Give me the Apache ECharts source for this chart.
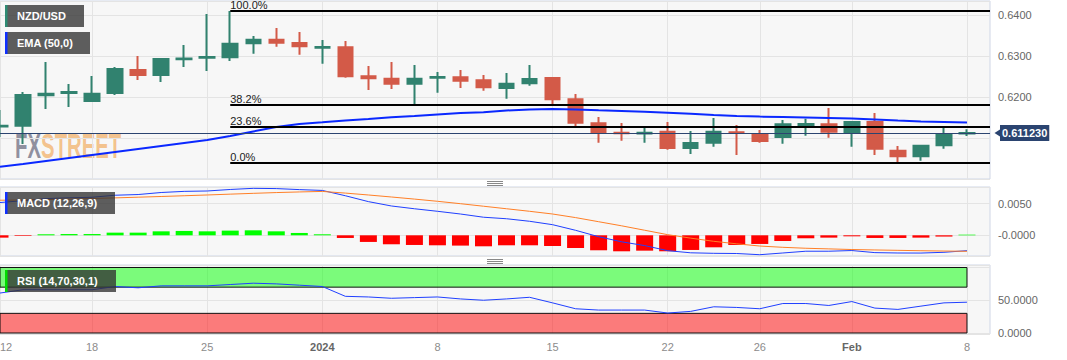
<!DOCTYPE html>
<html><head><meta charset="utf-8">
<script src="https://cdn.jsdelivr.net/npm/echarts@6/dist/echarts.min.js"></script>
<style>html,body{margin:0;padding:0;background:#fff}#c{width:1067px;height:360px}</style>
</head><body><div id="c"></div>
<script>
const dates = ['Dec 12','Dec 13','Dec 14','Dec 15','Dec 18','Dec 19','Dec 20','Dec 21','Dec 22','Dec 25','Dec 26','Dec 27','Dec 28','Dec 29',
  'Jan 1','Jan 2','Jan 3','Jan 4','Jan 5','Jan 8','Jan 9','Jan 10','Jan 11','Jan 12','Jan 15','Jan 16','Jan 17','Jan 18','Jan 19',
  'Jan 22','Jan 23','Jan 24','Jan 25','Jan 26','Jan 29','Jan 30','Jan 31','Feb 1','Feb 2','Feb 5','Feb 6','Feb 7','Feb 8'];
const opens  = [0.61280,0.61300,0.62040,0.62100,0.61902,0.62098,0.62659,0.62537,0.62920,0.62960,0.62968,0.63310,0.63398,0.63317,
  0.63200,0.63212,0.62505,0.62446,0.62324,0.62470,0.62480,0.62407,0.62220,0.62334,0.62463,0.61944,0.61359,0.61130,0.61110,
  0.61154,0.60756,0.60885,0.61140,0.61098,0.61024,0.61320,0.61334,0.61146,0.61390,0.60690,0.60554,0.60822,0.61110];
const highs  = [0.61683,0.62122,0.62854,0.62317,0.62512,0.62732,0.63000,0.62951,0.63268,0.64024,0.64098,0.63488,0.63683,0.63585,
  0.63390,0.63366,0.62756,0.62854,0.62780,0.62610,0.62659,0.62537,0.62585,0.62780,0.62488,0.62073,0.61512,0.61366,0.61251,
  0.61390,0.61171,0.61488,0.61317,0.61195,0.61439,0.61471,0.61732,0.61415,0.61610,0.60805,0.60822,0.61251,0.61212];
const lows   = [0.61024,0.60854,0.61707,0.61756,0.61878,0.62049,0.62415,0.62366,0.62732,0.62634,0.62878,0.63056,0.63227,0.63032,
  0.62812,0.62471,0.62171,0.62195,0.61829,0.62105,0.62220,0.62154,0.61959,0.62276,0.61829,0.61293,0.60885,0.60934,0.60885,
  0.60715,0.60610,0.60788,0.60585,0.60885,0.60861,0.61056,0.61007,0.60788,0.60585,0.60400,0.60446,0.60739,0.61049];
const closes = [0.61300,0.62049,0.62080,0.62120,0.62080,0.62683,0.62537,0.62927,0.62940,0.62975,0.63300,0.63398,0.63324,0.63237,
  0.63220,0.62505,0.62456,0.62324,0.62446,0.62490,0.62398,0.62237,0.62324,0.62439,0.61944,0.61373,0.61129,0.61115,0.61130,
  0.60756,0.60878,0.61154,0.61120,0.60927,0.61334,0.61340,0.61154,0.61390,0.60739,0.60554,0.60812,0.61090,0.61123];
const ema50 = [0.60300,0.60366,0.60439,0.60512,0.60585,0.60659,0.60732,0.60805,0.60878,0.60951,0.61049,0.61159,0.61268,0.61341,
  0.61383,0.61427,0.61463,0.61507,0.61537,0.61573,0.61610,0.61629,0.61671,0.61695,0.61707,0.61695,0.61676,0.61659,0.61639,
  0.61615,0.61590,0.61561,0.61537,0.61522,0.61512,0.61502,0.61490,0.61478,0.61451,0.61424,0.61405,0.61390,0.61376];
const macdLine = [0.00518,0.00548,0.00581,0.00593,0.00602,0.00634,0.00645,0.00677,0.00695,0.00701,0.00725,0.00743,0.00739,0.00723,
  0.00710,0.00626,0.00533,0.00464,0.00420,0.00380,0.00337,0.00286,0.00262,0.00222,0.00168,0.00079,-0.00022,-0.00103,-0.00163,
  -0.00243,-0.00277,-0.00285,-0.00288,-0.00307,-0.00280,-0.00252,-0.00252,-0.00241,-0.00274,-0.00280,-0.00281,-0.00269,-0.00243];
const signalLine = [0.00555,0.00558,0.00565,0.00573,0.00582,0.00592,0.00603,0.00614,0.00626,0.00638,0.00651,0.00664,0.00676,0.00686,
  0.00694,0.00668,0.00638,0.00606,0.00573,0.00538,0.00500,0.00460,0.00420,0.00380,0.00337,0.00280,0.00215,0.00150,0.00080,
  0.00010,-0.00045,-0.00095,-0.00135,-0.00170,-0.00190,-0.00205,-0.00215,-0.00225,-0.00232,-0.00238,-0.00244,-0.00249,-0.00253];
const macdHist = [-0.00037,-0.00010,0.00016,0.00020,0.00020,0.00042,0.00042,0.00063,0.00069,0.00063,0.00074,0.00079,0.00063,0.00037,
  0.00016,-0.00042,-0.00105,-0.00142,-0.00153,-0.00158,-0.00163,-0.00174,-0.00158,-0.00158,-0.00169,-0.00201,-0.00237,-0.00253,-0.00243,
  -0.00253,-0.00232,-0.00190,-0.00153,-0.00137,-0.00090,-0.00047,-0.00037,-0.00016,-0.00042,-0.00042,-0.00037,-0.00020,0.00010];
const rsi = [61,66,66,66,66,71,69,72,72,72,74,76,75,73,
  71,56,55,53,54,55,52,50,52,54.5,46,37,35,35,35,
  30.5,33,40,39,37,45,45,42,48,38,36,41,46,47];
const xTickLabels = [['Dec 12','12'],['Dec 18','18'],['Dec 25','25'],['Jan 1','2024'],['Jan 8','8'],['Jan 15','15'],
  ['Jan 22','22'],['Jan 26','26'],['Feb 1','Feb'],['Feb 8','8']];
const boldTickLabels = ['2024','Feb'];
const fibRatios = [1, 0.382, 0.236, 0];
const fibLabels = ['100.0%','38.2%','23.6%','0.0%'];
const legendNames = ['NZD/USD','EMA (50,0)','MACD (12,26,9)','RSI (14,70,30,1)'];
const rsiBands = [[70,100],[0,30]];

const UP = '#31826f', DOWN = '#d35a48', TAG = '#2b4470';
const FONT = 'Liberation Sans, Arial, sans-serif';
const cats = dates.concat(['pad']);
const tickMap = new Map(xTickLabels);
const hi = Math.max(...highs), lo = Math.min(...lows);
const hiIdx = highs.indexOf(hi);
const lastClose = closes[closes.length - 1];

function makeX(gi, showLabels) {
  return {
    type: 'category', gridIndex: gi, data: cats, boundaryGap: false,
    axisLine: { show: false }, axisTick: { show: false },
    splitLine: { show: true, interval: (i, v) => tickMap.has(v), lineStyle: { color: '#e4e4e4', width: 1 } },
    axisLabel: {
      show: showLabels, interval: (i, v) => tickMap.has(v), margin: 7,
      alignMinLabel: 'left', color: '#8c8c8c', fontSize: 11, fontFamily: FONT,
      formatter: v => { const t = tickMap.get(v) || ''; return boldTickLabels.includes(t) ? '{b|' + t + '}' : t; },
      rich: { b: { fontWeight: 'bold', color: '#666', fontSize: 11, fontFamily: FONT } }
    }
  };
}
function isMult(v, step) { const r = v / step; return Math.abs(r - Math.round(r)) < 1e-6; }
function makeY(gi, min, max, step, fmt) {
  return {
    type: 'value', gridIndex: gi, position: 'right', min, max,
    minInterval: step, maxInterval: step, scale: true,
    axisLine: { show: false }, axisTick: { show: false },
    splitLine: { show: true, lineStyle: { color: '#e4e4e4', width: 1 } },
    axisLabel: { margin: 8, color: '#666', fontSize: 11, fontFamily: FONT, formatter: fmt,
      showMinLabel: true, showMaxLabel: true }
  };
}
const gridBase = { left: 0, right: 77, show: true, backgroundColor: '#f7f7f7', borderColor: '#cfd6e6', borderWidth: 1, containLabel: false, outerBoundsMode: 'none' };

const fibData = fibRatios.map((r, k) => {
  const lvl = lo + r * (hi - lo);
  return [
    { coord: [hiIdx, lvl], lineStyle: { color: '#000', width: 2, type: 'solid' },
      label: { show: true, position: 'insideStartTop', formatter: fibLabels[k], color: '#222', fontSize: 11, lineHeight: 11, fontFamily: FONT, distance: 0 } },
    { coord: [cats.length - 1, lvl] }
  ];
});
const priceLine = {
  yAxis: lastClose, lineStyle: { color: TAG, width: 1, type: 'solid' },
  label: { show: true, position: 'end', distance: 10, formatter: lastClose.toFixed(6),
    backgroundColor: TAG, color: '#fff', fontWeight: 'bold', fontSize: 11, fontFamily: FONT, padding: [3, 2, 2, 2] }
};

function legendBox(x, y, w, barColor, text) {
  return [
    { type: 'rect', shape: { x: x, y: y, width: w, height: 22 }, style: { fill: 'rgba(50,50,50,0.78)' }, z: 50 },
    { type: 'rect', shape: { x: x, y: y, width: 2.5, height: 22 }, style: { fill: barColor }, z: 51 },
    { type: 'text', x: x + 12, y: y + 11, style: { text: text, fill: '#fff', font: 'bold 11px ' + FONT, verticalAlign: 'middle' }, z: 51 }
  ];
}
function sep(y) {
  return [0, 2, 4].map(d => ({ type: 'line', shape: { x1: 487, y1: y + d + 0.5, x2: 503, y2: y + d + 0.5 }, style: { stroke: '#888', lineWidth: 1 }, z: 50 }));
}

const option = {
  animation: false,
  backgroundColor: '#fff',
  textStyle: { fontFamily: FONT },
  grid: [
    Object.assign({ top: 1, height: 178 }, gridBase),
    Object.assign({ top: 187, height: 69 }, gridBase),
    Object.assign({ top: 265, height: 69 }, gridBase)
  ],
  xAxis: [makeX(0, false), makeX(1, false), makeX(2, true)],
  yAxis: [
    makeY(0, 0.60, 0.643415, 0.01, v => (v > 0.6005 && isMult(v, 0.01) && Math.abs(v - lastClose) > 0.002) ? v.toFixed(4) : ''),
    makeY(1, -0.003275, 0.007642, 0.005, v => isMult(v, 0.005) ? (Math.abs(v) < 1e-9 ? '-0.0000' : v.toFixed(4)) : ''),
    makeY(2, -1.53, 103.8, 50, v => (Math.abs(v) < 1e-9 || Math.abs(v - 50) < 1e-9) ? v.toFixed(4) : '')
  ],
  graphic: [
    { type: 'group', x: 15, y: 146, scaleX: 0.58, z: 1, children: [
      { type: 'text', x: 0, y: 0, style: { text: 'FX', fill: 'rgba(110,110,130,0.75)', font: 'bold 35px ' + FONT, verticalAlign: 'middle' } },
      { type: 'text', x: 45, y: 0, style: { text: 'STREET', fill: 'rgba(240,150,50,0.55)', font: 'bold 35px ' + FONT, verticalAlign: 'middle' } }
    ] },
    ...legendBox(5, 5, 79, '#2e8b73', legendNames[0]),
    ...legendBox(5, 32, 85, '#1030ff', legendNames[1]),
    ...legendBox(5, 192, 110, '#1030ff', legendNames[2]),
    ...legendBox(5, 270, 111, '#00dd00', legendNames[3]),
    ...sep(181), ...sep(259)
  ],
  series: [
    { type: 'candlestick', xAxisIndex: 0, yAxisIndex: 0, barWidth: 15, clip: true,
      data: opens.map((o, i) => [o, closes[i], lows[i], highs[i]]),
      itemStyle: { color: UP, color0: DOWN, borderColor: UP, borderColor0: DOWN, borderWidth: 2 },
      markLine: { silent: true, symbol: ['none', 'none'], animation: false, precision: 6, data: fibData.concat([priceLine]) },
      markPoint: { silent: true, animation: false, label: { show: false },
        data: [{ coord: [cats.length - 1, lastClose], symbol: 'triangle', symbolRotate: 90, symbolSize: [9, 7], symbolOffset: [8, 0],
          itemStyle: { color: TAG } }] }
    },
    { type: 'line', name: 'EMA', xAxisIndex: 0, yAxisIndex: 0, data: ema50, showSymbol: false, symbol: 'none',
      lineStyle: { color: '#0a28ff', width: 2 }, z: 3 },
    { type: 'bar', xAxisIndex: 1, yAxisIndex: 1, data: macdHist, barWidth: 17,
      itemStyle: { color: p => p.value >= 0 ? '#00ff00' : '#ff0000' } },
    { type: 'line', xAxisIndex: 1, yAxisIndex: 1, data: macdLine, showSymbol: false, symbol: 'none',
      lineStyle: { color: '#1f3fff', width: 1 }, z: 4 },
    { type: 'line', xAxisIndex: 1, yAxisIndex: 1, data: signalLine, showSymbol: false, symbol: 'none',
      lineStyle: { color: '#ff7f27', width: 1 }, z: 4 },
    { type: 'line', xAxisIndex: 2, yAxisIndex: 2, data: rsi, showSymbol: false, symbol: 'none',
      lineStyle: { color: '#1f3fff', width: 1 }, z: 4,
      markArea: { silent: true, data: rsiBands.map(([a, b], k) => [
        { xAxis: dates[0], yAxis: a, itemStyle: { color: k === 0 ? 'rgba(0,255,0,0.5)' : 'rgba(255,0,0,0.5)', borderColor: '#111', borderWidth: 1 } },
        { xAxis: dates[dates.length - 1], yAxis: b }
      ]) }
    }
  ]
};
const chart = echarts.init(document.getElementById('c'), null, { renderer: 'svg' });
chart.setOption(option);
</script>
</body></html>
